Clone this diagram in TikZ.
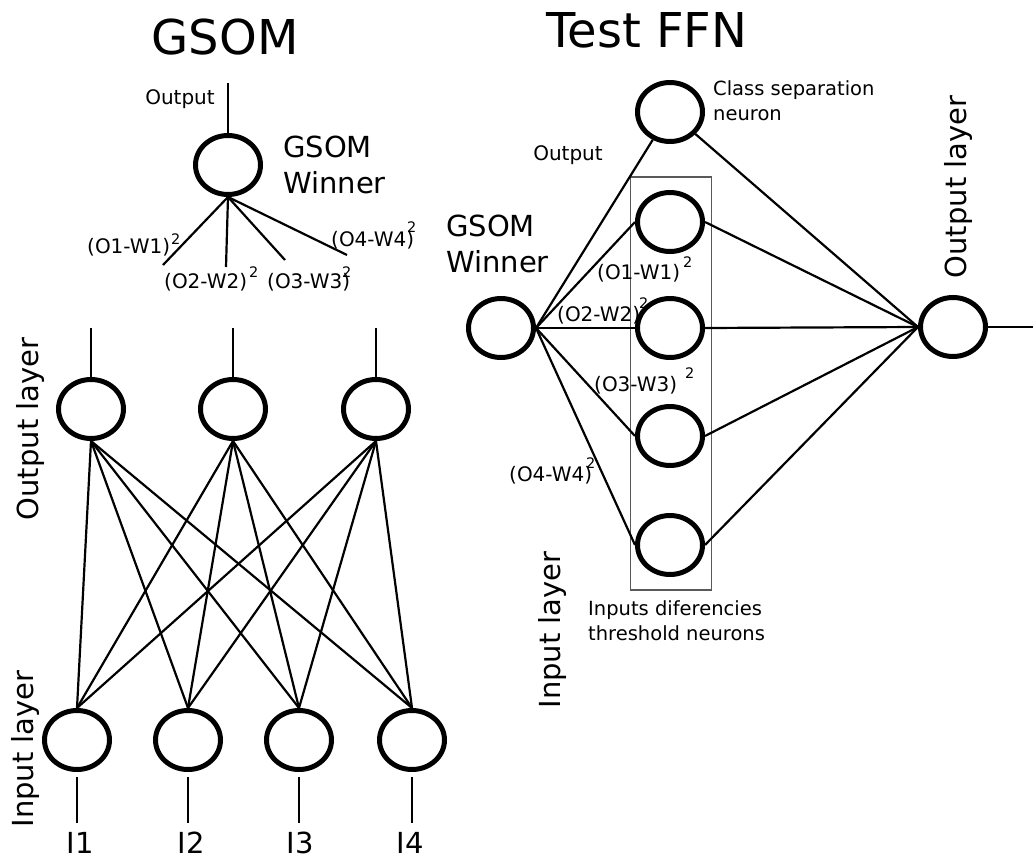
\documentclass[tikz,border=0pt]{standalone}
\usepackage{fontspec}
\setmainfont{DejaVu Sans}
\usetikzlibrary{shapes.geometric}
% raised "2" for the squared differences, with a horizontal kern before it
\newcommand{\sqrtwo}[2]{\kern#1\raisebox{#2}{\fontsize{14.5}{14.5}\selectfont 2}}

\begin{document}
\begin{tikzpicture}[x=1pt,y=-1pt,
  neuron/.style={draw, ellipse, line width=5pt, minimum width=65pt, minimum height=59pt, inner sep=0pt},
  link/.style={line width=2.2pt},
  stub/.style={line width=1.6pt},
  title/.style={font=\fontsize{48}{56}\selectfont, inner sep=0pt},
  big/.style={font=\fontsize{29}{36}\selectfont, align=left, inner sep=0pt},
  lbl/.style={font=\fontsize{20}{23}\selectfont, inner sep=0pt},
  note/.style={font=\fontsize{19.5}{25}\selectfont, align=left, inner sep=0pt}
]
\useasboundingbox (0,0) rectangle (1033,856);

% ---------------- GSOM ----------------
\node[title, anchor=base] (t1) at (225,55) {GSOM};

% winner neuron with its squared-difference inputs
\node[neuron] (gw) at (228,165) {};
\coordinate (gwout) at (228,83);
\draw[stub] (gwout) -- (gw.north);
\node[lbl] (gwlab) at (180,99) {Output};
\node[big, anchor=north west] (gwname) at (283,136) {GSOM\\Winner};
\coordinate (e1) at (163,265);
\coordinate (e2) at (226,267);
\coordinate (e3) at (285,260);
\coordinate (e4) at (347,255);
\foreach \e in {e1,e2,e3,e4} \draw[link] (gw.south) -- (\e);
\node[lbl, anchor=base west] (d1) at (87,253) {(O1-W1)\sqrtwo{1pt}{9pt}};
\node[lbl, anchor=base west] (d2) at (164,288) {(O2-W2)\sqrtwo{2pt}{11pt}};
\node[lbl, anchor=base west] (d3) at (267,288) {(O3-W3)\sqrtwo{-8pt}{11pt}};
\node[lbl, anchor=base west] (d4) at (331,246) {(O4-W4)\sqrtwo{-7pt}{14pt}};

% output layer
\node[neuron] (o1) at (91,409) {};
\node[neuron] (o2) at (233,409) {};
\node[neuron] (o3) at (376,409) {};
\coordinate (ot1) at (91,328);
\coordinate (ot2) at (233,328);
\coordinate (ot3) at (376,328);
\draw[stub] (ot1) -- (o1.north);
\draw[stub] (ot2) -- (o2.north);
\draw[stub] (ot3) -- (o3.north);

% input layer
\node[neuron] (i1) at (77,740) {};
\node[neuron] (i2) at (188,740) {};
\node[neuron] (i3) at (299,740) {};
\node[neuron] (i4) at (412,740) {};
\coordinate (ib1) at (77,823);
\coordinate (ib2) at (188,823);
\coordinate (ib3) at (299,823);
\coordinate (ib4) at (412,823);
\draw[stub, shorten <=5pt] (i1.south) -- (ib1);
\draw[stub, shorten <=5pt] (i2.south) -- (ib2);
\draw[stub, shorten <=5pt] (i3.south) -- (ib3);
\draw[stub, shorten <=5pt] (i4.south) -- (ib4);

% full connections between the layers
\foreach \o in {o1,o2,o3}
  \foreach \i in {i1,i2,i3,i4}
    \draw[link] (\o.south) -- (\i.north);

\node[big, anchor=base] (l1) at (80,853) {I1};
\node[big, anchor=base] (l2) at (191,853) {I2};
\node[big, anchor=base] (l3) at (300,853) {I3};
\node[big, anchor=base] (l4) at (410,853) {I4};

\node[big, rotate=90] (olay) at (30,429) {Output layer};
\node[big, rotate=90] (ilay) at (25,749) {Input layer};

% ---------------- Test FFN ----------------
\node[title, anchor=base] (t2) at (647,48) {Test FFN};

\node[draw=black!65, line width=1.5pt, minimum width=81pt, minimum height=413pt, inner sep=0pt] (box) at (671,383.5) {};

\node[neuron] (rw) at (501,328) {};
\node[neuron] (cs) at (670,112) {};
\node[neuron] (h1) at (670,222) {};
\node[neuron] (h2) at (670,328) {};
\node[neuron] (h3) at (670,436) {};
\node[neuron] (h4) at (670,545) {};
\node[neuron] (ro) at (953,327) {};
\coordinate (rout) at (1033,327);

\draw[link] (rw.east) -- (cs);
\foreach \h in {h1,h2,h3,h4} \draw[link] (rw.east) -- (\h.west);
\draw[link] (cs) -- (ro.west);
\foreach \h in {h1,h2,h3,h4} \draw[link] (\h.east) -- (ro.west);
\draw[stub] (ro.east) -- (rout);

\node[big, anchor=north west] (rwname) at (446,215) {GSOM\\Winner};
\node[lbl] (rwlab) at (568,155) {Output};
\node[note, anchor=north west] (cslab) at (713,80) {Class separation\\neuron};
\node[note, anchor=north west] (boxlab) at (588,600) {Inputs diferencies\\threshold neurons};

\node[lbl, anchor=base west] (r1) at (597,279) {(O1-W1)\sqrtwo{3pt}{12pt}};
\node[lbl, anchor=base west] (r2) at (557,321) {(O2-W2)\sqrtwo{-1pt}{13pt}};
\node[lbl, anchor=base west] (r3) at (594,391) {(O3-W3)\sqrtwo{8pt}{13pt}};
\node[lbl, anchor=base west] (r4) at (509,481) {(O4-W4)\sqrtwo{-6pt}{13pt}};

\node[big, rotate=90] (rilay) at (552,630) {Input layer};
\node[big, rotate=90] (rolay) at (958,187) {Output layer};
\end{tikzpicture}
\end{document}
